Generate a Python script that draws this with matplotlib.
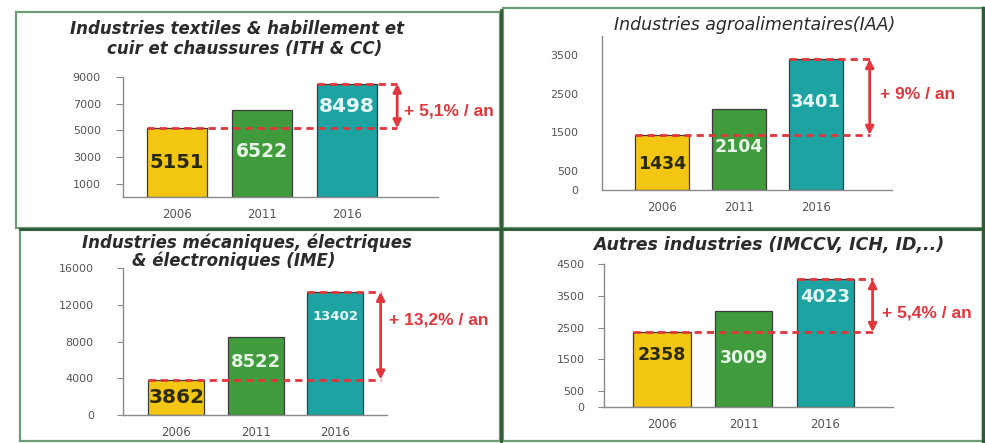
#!/usr/bin/env python3
"""Four small bar panels: industry counts 2006 / 2011 / 2016."""

import matplotlib

matplotlib.use("Agg")
import matplotlib.pyplot as plt
from matplotlib.patches import Rectangle

W, H = 985, 443

years = ["2006", "2011", "2016"]
ith_cc = [5151, 6522, 8498]
iaa = [1434, 2104, 3401]
ime = [3862, 8522, 13402]
autres = [2358, 3009, 4023]

growth_labels = ["+ 5,1% / an", "+ 9% / an", "+ 13,2% / an", "+ 5,4% / an"]
titles = [
    ["Industries textiles & habillement et", "cuir et chaussures (ITH & CC)"],
    ["Industries agroalimentaires(IAA)"],
    ["Industries mécaniques, électriques", "& électroniques (IME)"],
    ["Autres industries (IMCCV, ICH, ID,..)"],
]
yticks = [
    [1000, 3000, 5000, 7000, 9000],
    [0, 500, 1500, 2500, 3500],
    [0, 4000, 8000, 12000, 16000],
    [0, 500, 1500, 2500, 3500, 4500],
]

BAR_COLORS = ["#f3c612", "#3f9b3c", "#1ea3a3"]
LABEL_COLORS = ["#2a2a08", "#e8f6e8", "#e6f8f8"]
RED = "#e1363b"

# layout, in pixels of the 985x443 picture
panels = [
    dict(values=ith_cc, box=(16, 12, 500, 228), axes=(123, 77, 438, 197), ylim=9000,
         xlim=(-0.635, 3.07), arrow_x=2.59, text_x=2.67, text_frac=0.39, pad=11,
         ticklen=5, lab_frac=[0.5, 0.52, 0.8], lab_size=[14, 13.5, 14.5],
         title_xy=[(237, 29), (245, 49)], title_style="bold", title_size=12),
    dict(values=iaa, box=(503, 8, 983, 228), axes=(602, 36, 892, 190), ylim=4000,
         xlim=(-0.78, 2.99), arrow_x=2.70, text_x=2.83, text_frac=0.53, pad=17,
         ticklen=0, lab_frac=[0.47, 0.53, 0.67], lab_size=[12.5, 12.5, 13],
         title_xy=[(755, 25)], title_style="normal", title_size=12.5),
    dict(values=ime, box=(20, 230, 500, 441), axes=(123, 268, 387, 415), ylim=16000,
         xlim=(-0.67, 2.65), arrow_x=2.57, text_x=2.67, text_frac=0.68, pad=17,
         ticklen=4, lab_frac=[0.5, 0.68, 0.8], lab_size=[14.5, 13, 9.5],
         title_xy=[(247, 243), (234, 261)], title_style="bold", title_size=12),
    dict(values=autres, box=(503, 230, 983, 441), axes=(604, 264, 893, 407), ylim=4500,
         xlim=(-0.71, 2.83), arrow_x=2.58, text_x=2.70, text_frac=0.36, pad=10,
         ticklen=4, lab_frac=[0.7, 0.51, 0.86], lab_size=[12.5, 12.5, 13],
         title_xy=[(769, 245)], title_style="bold", title_size=12.5),
]

BAR_W = 0.7

fig = plt.figure(figsize=(W / 100, H / 100), dpi=100)
fig.patch.set_facecolor("white")


def fx(x):
    return x / W


def fy(y):
    return 1 - y / H


for i, p in enumerate(panels):
    x0, y0, x1, y1 = p["box"]
    fig.patches.append(Rectangle((fx(x0), fy(y1)), fx(x1 - x0), (y1 - y0) / H,
                                 transform=fig.transFigure, fill=False,
                                 edgecolor="#6f9a76", lw=1.6))

    l, t, r, b = p["axes"]
    ax = fig.add_axes([fx(l), fy(b), fx(r - l), (b - t) / H])
    ax.set_facecolor("none")
    vals = p["values"]
    xs = range(len(years))
    ax.bar(xs, vals, width=BAR_W, color=BAR_COLORS, edgecolor="#3b3b3b", lw=0.9, zorder=2)
    ax.set_xlim(*p["xlim"])
    ax.set_ylim(0, p["ylim"])
    ax.set_yticks(yticks[i])
    ax.set_xticks(list(xs))
    ax.set_xticklabels(years)
    for s in ("top", "right"):
        ax.spines[s].set_visible(False)
    for s in ("left", "bottom"):
        ax.spines[s].set_color("#8a8a8a")
        ax.spines[s].set_linewidth(1.0)
    ax.tick_params(axis="y", length=p["ticklen"], color="#8a8a8a", pad=p["pad"],
                   labelsize=8, labelcolor="#555555")
    ax.tick_params(axis="x", length=0, pad=8, labelsize=8.5, labelcolor="#555555")

    for j, v in enumerate(vals):
        ax.text(j, v * p["lab_frac"][j], str(v), ha="center", va="center",
                fontsize=p["lab_size"][j], fontweight="bold",
                color=LABEL_COLORS[j], zorder=4)

    v0, v2 = vals[0], vals[-1]
    ax_x = p["arrow_x"]
    dash = (0, (2.6, 1.8))
    ax.plot([-BAR_W / 2, ax_x], [v0, v0], ls=dash, lw=2, color=RED, zorder=3,
            clip_on=False)
    ax.plot([2 - BAR_W / 2, ax_x], [v2, v2], ls=dash, lw=2, color=RED, zorder=3,
            clip_on=False)
    ax.annotate("", xy=(ax_x, v2), xytext=(ax_x, v0),
                arrowprops=dict(arrowstyle="<|-|>", color=RED, lw=2,
                                mutation_scale=12, shrinkA=0, shrinkB=0),
                annotation_clip=False)
    ax.text(p["text_x"], v0 + (v2 - v0) * p["text_frac"], growth_labels[i],
            ha="left", va="center", fontsize=12.5, color=RED, fontweight="bold",
            family=["Liberation Sans", "DejaVu Sans"], clip_on=False)

    for line, (tx, ty) in zip(titles[i], p["title_xy"]):
        fig.text(fx(tx), fy(ty), line, ha="center", va="center",
                 fontsize=p["title_size"], fontweight=p["title_style"],
                 style="italic", color="#2b2b2b")

# darker dividing lines between the panels
fig.add_artist(plt.Line2D([fx(501.5), fx(501.5)], [fy(10), fy(443)],
                          transform=fig.transFigure, color="#2f5a36", lw=2))
fig.add_artist(plt.Line2D([fx(20), fx(985)], [fy(229), fy(229)],
                          transform=fig.transFigure, color="#2f5a36", lw=2))
fig.add_artist(plt.Line2D([fx(983), fx(983)], [fy(8), fy(443)],
                          transform=fig.transFigure, color="#2f5a36", lw=2.5))

fig.savefig("out.png", dpi=100)
plt.close(fig)
